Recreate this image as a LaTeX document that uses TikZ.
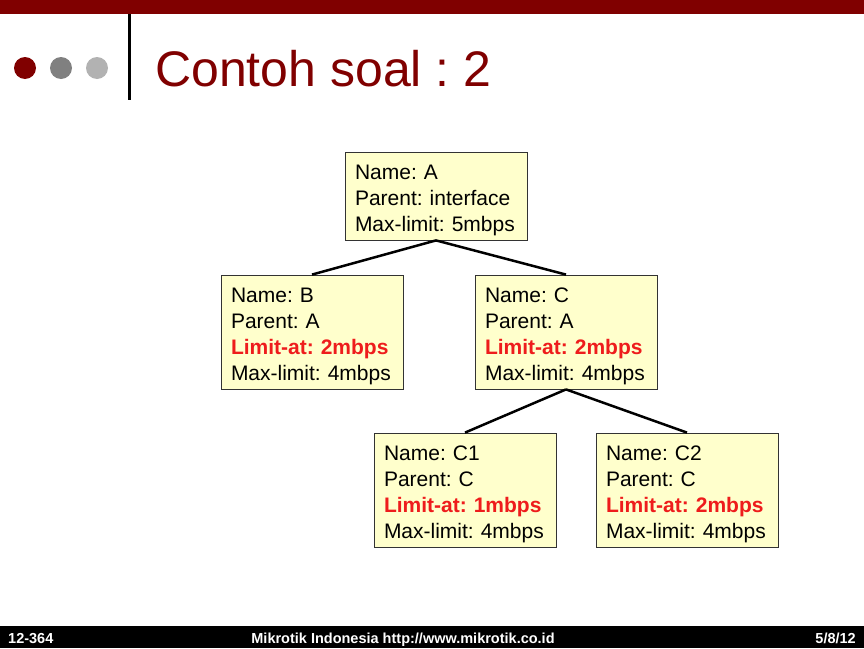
\documentclass[tikz,border=0pt]{standalone}
\usepackage{fontspec}
\setmainfont{Liberation Sans}
\usepackage{tikz}
\usetikzlibrary{positioning,calc}
\usepackage{xcolor}
\frenchspacing

\definecolor{maroon}{RGB}{128,0,0}
\definecolor{boxfill}{RGB}{255,255,204}
\definecolor{limitred}{RGB}{238,28,28}

\newcommand{\limitat}[1]{\textcolor{limitred}{\bfseries Limit-at: #1}}

\begin{document}
\begin{tikzpicture}[x=1pt,y=-1pt,
    queue/.style={rectangle,draw=black!80,line width=0.8pt,fill=boxfill,
      text width=162pt,minimum width=182pt,inner xsep=10pt,inner ysep=0pt,
      align=left,font=\fontsize{21}{26}\selectfont,
      execute at begin node=\rule{0pt}{23pt}},
    edge/.style={line width=2.5pt,black},
    footer/.style={text=white,font=\fontsize{14.5}{14.5}\selectfont\bfseries},
    node distance=0.5cm]

\useasboundingbox (0,0) rectangle (864,648);

% slide frame
\fill[maroon] (0,0) rectangle (864,14);
\fill[black] (0,626) rectangle (864,648);
\draw[line width=3pt] (129,14) -- (129,100);
\fill[maroon] (25,68) circle (11);
\fill[black!50] (61,68) circle (11);
\fill[black!30] (97,68) circle (11);
\node[anchor=base west,inner sep=0pt,text=maroon,font=\fontsize{50}{50}\selectfont] (title) at (155,86) {Contoh soal : 2};

% queue tree
\node[queue,minimum height=88pt] (qa) at (436,196) {Name: A\\Parent: interface\\Max-limit: 5mbps};

\node[queue,minimum height=114pt] (qb) at (312,332) {Name: B\\Parent: A\\\limitat{2mbps}\\Max-limit: 4mbps};
\node[queue,minimum height=114pt] (qc) at (566,332) {Name: C\\Parent: A\\\limitat{2mbps}\\Max-limit: 4mbps};

\node[queue,minimum height=114pt] (qc1) at (465,490) {Name: C1\\Parent: C\\\limitat{1mbps}\\Max-limit: 4mbps};
\node[queue,minimum height=114pt] (qc2) at (687,490) {Name: C2\\Parent: C\\\limitat{2mbps}\\Max-limit: 4mbps};

\draw[edge] (qa.south) -- (qb.north);
\draw[edge] (qa.south) -- (qc.north);
\draw[edge] (qc.south) -- (qc1.north);
\draw[edge] (qc.south) -- (qc2.north);

% footer
\node[footer,anchor=base west,inner sep=0pt] (fl) at (8,643) {12-364};
\node[footer,anchor=base,inner sep=0pt] (fc) at (403,643) {Mikrotik Indonesia http://www.mikrotik.co.id};
\node[footer,anchor=base east,inner sep=0pt] (fr) at (856,643) {5/8/12};

\end{tikzpicture}
\end{document}
